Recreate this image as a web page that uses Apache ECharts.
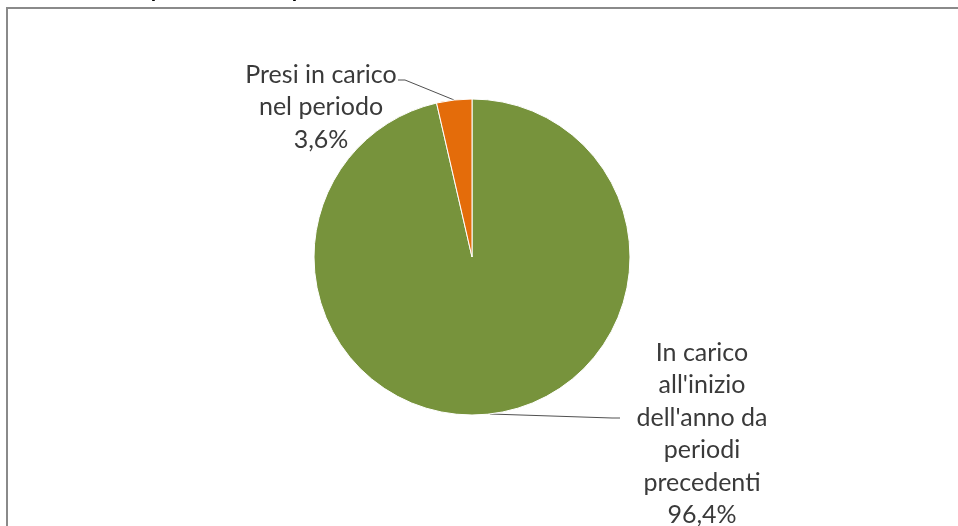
<!DOCTYPE html>
<html>
<head>
<meta charset="utf-8">
<script src="https://cdn.jsdelivr.net/npm/echarts@6/dist/echarts.min.js"></script>
<style>
html,body{margin:0;padding:0;background:#fff;}
#chart{width:958px;height:526px;}
</style>
</head>
<body>
<div id="chart"></div>
<script>
// Data
const titleText = "secondo il periodo di presa in carico";
const categories = ["In carico\nall'inizio\ndell'anno da\nperiodi\nprecedenti", "Presi in carico\nnel periodo"];
const values = [96.4, 3.6];
const colors = ['#77933C', '#E46C0A'];

// label placement (layout only)
const labelPos = [
  { x: 702, y: 434, bend: [612, 418], end: [620, 418] },
  { x: 321, y: 107, bend: [405, 80], end: [398, 80] }
];

const chart = echarts.init(document.getElementById('chart'));
chart.setOption({
  animation: false,
  backgroundColor: '#ffffff',
  graphic: [
    {
      type: 'rect',
      shape: { x: 7, y: 8, width: 1000, height: 600 },
      style: { fill: 'none', stroke: '#8a8a8a', lineWidth: 2 },
      z: 10
    },
    {
      type: 'text',
      x: 10,
      y: 1,
      style: {
        text: titleText,
        font: '30px Lato',
        fill: '#000',
        verticalAlign: 'bottom'
      }
    }
  ],
  series: [{
    type: 'pie',
    center: [472, 257],
    radius: 158,
    startAngle: 90,
    clockwise: true,
    data: categories.map((c, i) => ({
      name: c,
      value: values[i],
      itemStyle: { color: colors[i] }
    })),
    itemStyle: { borderColor: '#ffffff', borderWidth: 1 },
    label: {
      show: true,
      position: 'outside',
      fontFamily: 'Lato',
      fontSize: 25,
      lineHeight: 32.5,
      color: '#3a3a3a',
      align: 'center',
      formatter: p => p.name + '\n' + values[p.dataIndex].toFixed(1).replace('.', ',') + '%'
    },
    labelLine: {
      show: true,
      length: 10,
      length2: 20,
      lineStyle: { color: '#505050', width: 1 }
    },
    labelLayout: function (params) {
      const pos = labelPos[params.dataIndex];
      const out = { x: pos.x, y: pos.y, align: 'center', verticalAlign: 'middle' };
      if (params.labelLinePoints && params.labelLinePoints.length) {
        const p0 = params.labelLinePoints[0];
        out.labelLinePoints = [[p0[0], p0[1]], pos.bend, pos.end];
      }
      return out;
    },
    emphasis: { disabled: true }
  }]
});
</script>
</body>
</html>
